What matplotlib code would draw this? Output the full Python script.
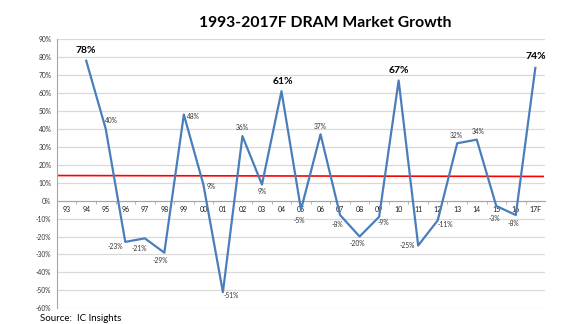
import numpy as np
import matplotlib.pyplot as plt
from matplotlib.ticker import FuncFormatter, FixedLocator

plt.rcParams['font.family'] = ['Lato', 'DejaVu Sans']

# data (1993 has no point)
years = ["93", "94", "95", "96", "97", "98", "99", "00", "01", "02", "03", "04", "05",
         "06", "07", "08", "09", "10", "11", "12", "13", "14", "15", "16", "17F"]
growth = [np.nan, 78, 40, -23, -21, -29, 48, 9, -51, 36, 9, 61, -5,
          37, -8, -20, -9, 67, -25, -11, 32, 34, -3, -8, 74]
trend = [14, 13.5]          # red average line, left / right end
big_labels = ["94", "04", "10", "17F"]

# label offsets in pixels (dx, dy) for each point
offsets = [None, (0, 10), (6, 8), (-10, -5), (-5, -10), (-4, -8), (10, -2), (8, -2),
           (8, -3), (0, 9), (0, -7), (1, 10), (-2, -11), (0, 8), (-3, -9), (-2, -7),
           (4, -6), (0, 10), (-11, 0), (8, -4), (-1, 8), (1, 8), (-2, -12), (-2, -8), (0, 11)]

fig = plt.figure(figsize=(5.75, 3.24), dpi=100)
ax = fig.add_axes([0.099, 0.0485, 0.849, 0.8305])

x = np.arange(len(years))
ax.plot(x, growth, color="#4A7EBB", lw=1.6, zorder=3)
ax.plot([-0.4, len(years) - 0.6], trend, color="#FF0000", lw=1.2, zorder=2)

for i, (yr, v) in enumerate(zip(years, growth)):
    if np.isnan(v):
        continue
    if yr in big_labels:
        kw = dict(fontsize=7.5, fontweight="bold", color="black")
    else:
        kw = dict(fontsize=4.8, color="#333333")
    ax.annotate(f"{v:.0f}%", (i, v), xytext=offsets[i], textcoords="offset pixels",
                ha="center", va="center", zorder=4, **kw)

ax.set_xlim(-0.5, len(years) - 0.5)
ax.set_ylim(-60, 90)
ax.set_yticks(np.arange(-60, 91, 10))
ax.yaxis.set_major_formatter(FuncFormatter(lambda v, p: f"{v:.0f}%"))
ax.grid(axis="y", color="#D9D9D9", lw=0.9)
ax.set_axisbelow(True)

ax.set_xticks(x)
ax.xaxis.set_minor_locator(FixedLocator(x[:-1] + 0.5))
ax.tick_params(axis="x", which="major", length=0, pad=4, labelsize=5, labelcolor="#1a1a1a")
ax.tick_params(axis="x", which="minor", length=2.5, color="#A6A6A6", width=0.6)
ax.tick_params(axis="y", length=0, labelsize=4.8, labelcolor="#333333", pad=4)
ax.set_xticklabels(years)
for lab in ax.get_xticklabels():
    lab.set_fontweight("bold")

ax.spines["bottom"].set_position(("data", 0))
ax.spines["bottom"].set_color("#A6A6A6")
ax.spines["left"].set_color("#A6A6A6")
ax.spines["top"].set_visible(False)
ax.spines["right"].set_visible(False)

fig.text(0.565, 0.93, "1993-2017F DRAM Market Growth", fontsize=11.3, fontweight="bold",
         ha="center", va="center")
fig.text(0.07, 0.018, "Source:  IC Insights", fontsize=7, ha="left", va="center")

fig.savefig("out.png", dpi=100)
